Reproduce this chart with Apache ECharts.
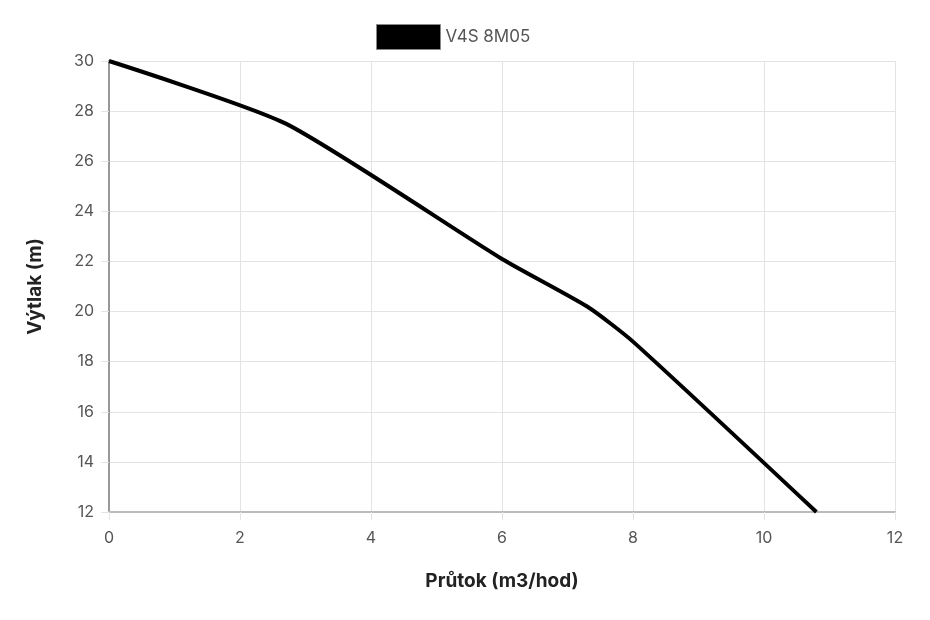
<!DOCTYPE html>
<html>
<head>
<meta charset="utf-8">
<script src="https://cdn.jsdelivr.net/npm/echarts@6/dist/echarts.min.js"></script>
<style>
html, body { margin: 0; padding: 0; background: #fff; }
#chart { width: 930px; height: 620px; }
</style>
</head>
<body>
<div id="chart"></div>
<script>
// křivka čerpadla V4S 8M05
var seriesName = 'V4S 8M05';
var flowValues = [0, 2.7, 6, 7.3, 8, 10.8];
var headValues = [30, 27.5, 22.1, 20.2, 18.8, 12];

var points = flowValues.map(function (x, i) { return [x, headValues[i]]; });

var chart = echarts.init(document.getElementById('chart'));
var option = {
	animation: false,
	textStyle: { fontFamily: 'Inter, "Open Sans", sans-serif' },
	legend: {
		data: [{ name: seriesName, icon: 'rect' }],
		top: 19,
		left: 371,
		itemWidth: 64,
		itemHeight: 25,
		itemGap: 10,
		itemStyle: { borderColor: '#888', borderWidth: 1 },
		textStyle: { fontSize: 17, color: '#555' }
	},
	grid: { left: 109, right: 35, top: 61, bottom: 108 },
	xAxis: {
		type: 'value',
		min: 0,
		max: 12,
		interval: 2,
		name: 'Průtok (m3/hod)',
		nameLocation: 'middle',
		nameGap: 60,
		nameTextStyle: { fontSize: 19, fontWeight: 'bold', color: '#222' },
		axisLine: { show: true, onZero: false, lineStyle: { color: '#bbb', width: 2 } },
		axisTick: { show: true, length: 8, lineStyle: { color: '#e3e3e3' } },
		axisLabel: { fontSize: 16, color: '#555', margin: 18 },
		splitLine: { show: true, lineStyle: { color: '#e3e3e3' } }
	},
	yAxis: {
		type: 'value',
		min: 12,
		max: 30,
		interval: 2,
		name: 'Výtlak (m)',
		nameLocation: 'middle',
		nameGap: 64,
		nameRotate: 90,
		nameTextStyle: { fontSize: 19, fontWeight: 'bold', color: '#222' },
		axisLine: { show: true, lineStyle: { color: '#999', width: 2 } },
		axisTick: { show: true, length: 8, lineStyle: { color: '#e3e3e3' } },
		axisLabel: { fontSize: 16, color: '#555', margin: 15 },
		splitLine: { show: true, lineStyle: { color: '#e3e3e3' } }
	},
	series: [{
		name: seriesName,
		type: 'line',
		data: points,
		smooth: 0.2,
		showSymbol: false,
		itemStyle: { color: '#000' },
		lineStyle: { color: '#000', width: 4 }
	}]
};
chart.setOption(option);
</script>
</body>
</html>
